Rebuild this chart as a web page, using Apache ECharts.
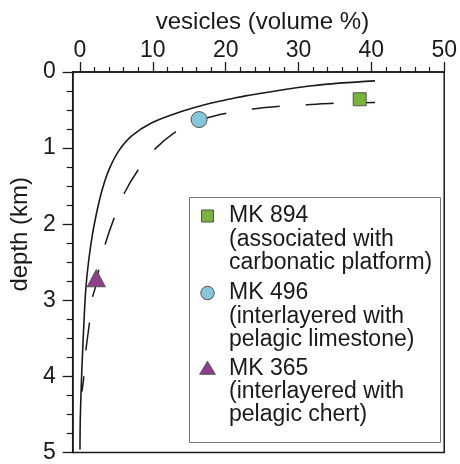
<!DOCTYPE html>
<html><head><meta charset="utf-8">
<script src="https://cdn.jsdelivr.net/npm/echarts@6/dist/echarts.min.js"></script>
<style>html,body{margin:0;padding:0;background:#fff}#c{width:460px;height:464px}</style>
</head><body><div id="c"></div>
<script>
// ---- data ----
const xTickValues = [0, 10, 20, 30, 40, 50];
const xMinorValues = [2,4,6,8,12,14,16,18,22,24,26,28,32,34,36,38,42,44,46,48];
const yTickValues = [0, 1, 2, 3, 4, 5];
const solidVesicles = [40.5, 31.9, 22.9, 20.6, 17.9, 13.9, 9.8, 7.1, 5.3, 4.0, 3.07, 2.4, 1.7, 1.18, 0.81, 0.59, 0.27, 0.05, 0];
const solidDepth    = [0.117, 0.18, 0.31, 0.356, 0.41, 0.52, 0.67, 0.84, 1.04, 1.28, 1.54, 1.80, 2.14, 2.49, 2.84, 3.2, 3.88, 4.53, 4.96];
const dashedVesicles = [40.5, 35.0, 31.2, 27.6, 23.8, 20.2, 17.5, 16.35, 13.2, 10.3, 8.0, 6.1, 4.65, 3.5, 2.75, 2.08, 1.72, 1.27, 0.81, 0.5, 0.27];
const dashedDepth    = [0.40, 0.41, 0.43, 0.45, 0.485, 0.54, 0.60, 0.625, 0.78, 1.01, 1.285, 1.59, 1.93, 2.25, 2.52, 2.84, 2.96, 3.32, 3.66, 4.03, 4.2];
const sampleNames = ['MK 894', 'MK 496', 'MK 365'];
const sampleNotes = ['(associated with\ncarbonatic platform)', '(interlayered with\npelagic limestone)', '(interlayered with\npelagic chert)'];
const sampleVesicles = [38.4, 16.35, 2.23];
const sampleDepth = [0.358, 0.625, 2.71];

// ---- styles ----
const FONT = '"Liberation Sans", Arial, Helvetica, sans-serif';
const INK = '#1a1a1a';
const sampleColors = ['#78b43c', '#86c5da', '#923c8c'];
const sampleSymbols = ['rect', 'circle', 'triangle'];
const sampleSizes = [13, 16, [18, 17]];

const pair = (xs, ys) => xs.map((v, i) => [v, ys[i]]);

const chart = echarts.init(document.getElementById('c'), null, {renderer: 'canvas'});

const legendRowY = [216, 293, 368.3];
const LH = 23.3;
const legendGraphics = [{
  type: 'rect', z: 100,
  shape: {x: 189.5, y: 197.5, width: 251, height: 245},
  style: {fill: '#fff', stroke: '#777', lineWidth: 1}
}];
sampleNames.forEach((n, i) => {
  const cy = legendRowY[i];
  const cx = 207.5;
  let sym;
  if (i === 0) sym = {type: 'rect', shape: {x: cx - 6, y: cy - 6, width: 12, height: 12}};
  else if (i === 1) sym = {type: 'circle', shape: {cx: cx, cy: cy, r: 6.7}};
  else sym = {type: 'polygon', shape: {points: [[cx, cy - 7], [cx + 7.8, cy + 6], [cx - 7.8, cy + 6]]}};
  sym.z = 101;
  sym.style = {fill: sampleColors[i], stroke: '#555', lineWidth: 1};
  legendGraphics.push(sym);
  legendGraphics.push({
    type: 'text', z: 101, x: 229, y: cy - LH / 2,
    style: {text: n + '\n' + sampleNotes[i], fill: INK, font: '23px ' + FONT, lineHeight: LH, verticalAlign: 'top', align: 'left'}
  });
});

const option = {
  animation: false,
  backgroundColor: '#fff',
  textStyle: {fontFamily: FONT},
  grid: {left: 70, right: 12, top: 72, bottom: 8, show: true, borderColor: INK, borderWidth: 1.5, containLabel: false},
  xAxis: [{
    type: 'value', position: 'top', min: -1, max: 50,
    name: 'vesicles (volume %)', nameLocation: 'middle', nameGap: 30,
    nameTextStyle: {fontSize: 24, color: INK, padding: [0, 0, 0, 8]},
    axisLine: {show: true, onZero: false, lineStyle: {color: INK, width: 1.5}},
    axisTick: {show: true, customValues: xTickValues, length: 10, lineStyle: {color: INK, width: 1.3}},
    axisLabel: {show: true, customValues: xTickValues, fontSize: 23, color: INK, margin: 10},
    splitLine: {show: false}
  }, {
    type: 'value', position: 'top', min: -1, max: 50,
    axisLine: {show: false, onZero: false},
    axisTick: {show: true, customValues: xMinorValues, length: 5, lineStyle: {color: INK, width: 1.2}},
    axisLabel: {show: false},
    splitLine: {show: false}
  }],
  yAxis: [{
    type: 'value', inverse: true, min: 0, max: 5, interval: 1, position: 'left',
    name: 'depth (km)', nameLocation: 'middle', nameGap: 31,
    nameTextStyle: {fontSize: 24, color: INK, padding: [0, 0, 0, 56]},
    axisLine: {show: true, onZero: false, lineStyle: {color: INK, width: 1.5}},
    axisTick: {show: true, length: 10, lineStyle: {color: INK, width: 1.3}},
    minorTick: {show: true, splitNumber: 4, length: 6, lineStyle: {color: INK, width: 1.2}},
    axisLabel: {fontSize: 23, color: INK, margin: 17, formatter: v => yTickValues.includes(v) ? String(v) : ''},
    splitLine: {show: false}, minorSplitLine: {show: false}
  }],
  series: [{
    name: 'solid', type: 'line', xAxisIndex: 0, yAxisIndex: 0,
    data: pair(solidVesicles, solidDepth), smooth: 0.35, showSymbol: false, symbol: 'none',
    lineStyle: {color: INK, width: 1.6}, z: 2
  }, {
    name: 'dashed', type: 'line', xAxisIndex: 0, yAxisIndex: 0,
    data: pair(dashedVesicles, dashedDepth), smooth: 0.35, showSymbol: false, symbol: 'none',
    lineStyle: {color: INK, width: 1.5, type: [28, 26], dashOffset: 12.7}, z: 2
  }].concat(sampleNames.map((n, i) => ({
    name: n, type: 'scatter', xAxisIndex: 0, yAxisIndex: 0,
    data: [[sampleVesicles[i], sampleDepth[i]]],
    symbol: sampleSymbols[i], symbolSize: sampleSizes[i],
    itemStyle: {color: sampleColors[i], borderColor: '#555', borderWidth: 1, opacity: 1}, z: 5
  }))),
  graphic: legendGraphics
};
chart.setOption(option);
</script></body></html>
